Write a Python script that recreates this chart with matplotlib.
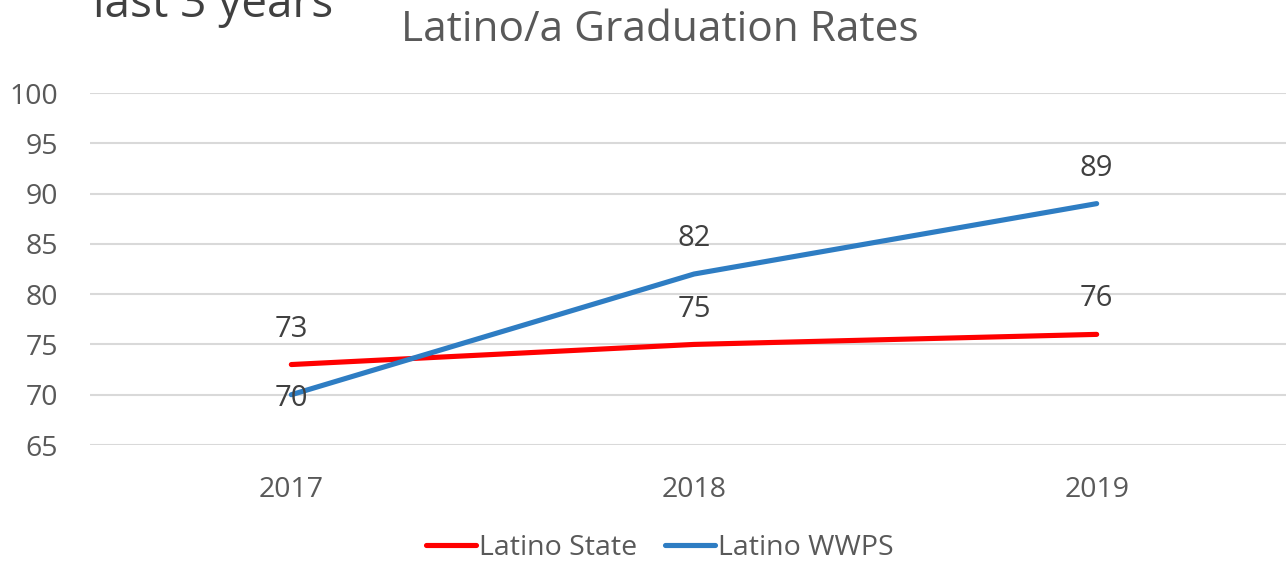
import matplotlib
matplotlib.use("Agg")
import matplotlib.pyplot as plt

plt.rcParams.update({
    "font.family": ["Open Sans", "DejaVu Sans"],
})

years = ["2017", "2018", "2019"]
state = [73, 75, 76]
wwps = [70, 82, 89]
yticks = [65, 70, 75, 80, 85, 90, 95, 100]

RED = "#FF0000"
BLUE = "#2E7DC3"
GRID = "#D9D9D9"
TICK = "#595959"
LBL = "#404040"

W, H = 1286, 561
fig = plt.figure(figsize=(W / 100, H / 100), dpi=100)
# plot area in pixel terms: x 90..1298 (cropped on the right), y 93..445
ax = fig.add_axes([90 / W, (H - 445) / H, (1298 - 90) / W, (445 - 93) / H])

x = list(range(len(years)))
ax.plot(x, state, color=RED, lw=3.7, solid_capstyle="round", label="Latino State", zorder=3)
ax.plot(x, wwps, color=BLUE, lw=3.7, solid_capstyle="round", label="Latino WWPS", zorder=3)

ax.set_xlim(-0.5, 2.5)
ax.set_ylim(65, 100)
ax.set_yticks(yticks)
ax.set_xticks(x)
ax.set_xticklabels(years)
ax.grid(axis="y", color=GRID, lw=1.5)
ax.set_axisbelow(True)
for s in ax.spines.values():
    s.set_visible(False)
ax.tick_params(length=0, labelsize=20.5, colors=TICK)
ax.tick_params(axis="x", pad=22)
ax.tick_params(axis="y", pad=23)

# data labels
for i, v in enumerate(state):
    ax.annotate(str(v), (i, v), xytext=(0, 25.5), textcoords="offset points",
                ha="center", va="center", fontsize=21, color=LBL)
for i, v in enumerate(wwps):
    dy = -3 if i == 0 else 25.5
    ax.annotate(str(v), (i, v), xytext=(0, dy), textcoords="offset points",
                ha="center", va="center", fontsize=21, color=LBL)

fig.text(660 / W, 1 - 30 / H, "Latino/a Graduation Rates", ha="center", va="center",
         fontsize=30.5, color=TICK)
fig.text(93 / W, 1 - 17 / H, "last 3 years", ha="left", va="baseline",
         fontsize=33, color=LBL)

fig.legend(loc="center", bbox_to_anchor=(660 / W, 1 - 548 / H), ncol=2, frameon=False,
           fontsize=20.5, handlelength=1.75, handletextpad=0.1, columnspacing=1.0,
           labelcolor=TICK)

fig.savefig("out.png", dpi=100)
